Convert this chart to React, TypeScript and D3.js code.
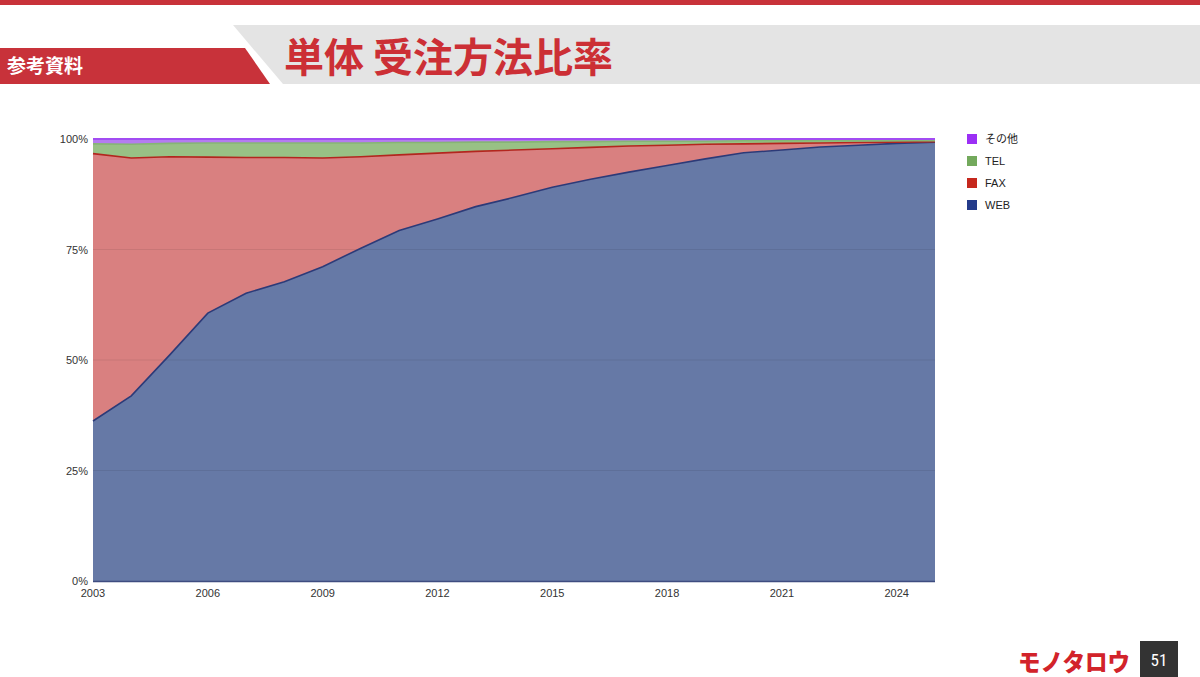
import React from "react";
import * as d3 from "d3";

const years = [2003,2004,2005,2006,2007,2008,2009,2010,2011,2012,2013,2014,2015,2016,2017,2018,2019,2020,2021,2022,2023,2024,2025];
const web = [36.2,41.9,51.1,60.6,65.1,67.7,71.1,75.3,79.3,81.9,84.7,86.8,89.1,90.9,92.5,94.0,95.5,96.9,97.5,98.2,98.6,99.0,99.3];
const fax = [60.5,53.8,44.9,35.3,30.7,28.1,24.6,20.7,17.1,14.9,12.5,10.7,8.7,7.2,5.9,4.6,3.3,2.0,1.5,0.9,0.6,0.3,0.1];
const tel = [2.2,3.1,3.0,3.2,3.3,3.3,3.4,3.1,2.8,2.4,2.1,1.8,1.6,1.3,1.1,0.9,0.7,0.7,0.6,0.5,0.4,0.3,0.2];
const other = [1.1,1.2,1.0,0.9,0.9,0.9,0.9,0.9,0.8,0.8,0.7,0.7,0.6,0.6,0.5,0.5,0.5,0.4,0.4,0.4,0.4,0.4,0.4];

const seriesKeys = ["WEB", "FAX", "TEL", "その他"];
const legendOrder = ["その他", "TEL", "FAX", "WEB"];
const xTicks = [2003,2006,2009,2012,2015,2018,2021,2024];
const yTicks = [0,25,50,75,100];

const fills: Record<string,string> = { "WEB": "#6679a6", "FAX": "#d98080", "TEL": "#98c185", "その他": "#b47cf0" };
const lines: Record<string,string> = { "WEB": "#2c3a78", "FAX": "#b3261e", "TEL": "#86b575", "その他": "#a24cf2" };
const legendColors: Record<string,string> = { "WEB": "#243b8a", "FAX": "#c5281d", "TEL": "#73a95c", "その他": "#9b2ff5" };

const ARIAL = "'Liberation Sans', Arial, sans-serif";
const JP = "'Noto Sans CJK JP', 'Noto Sans', sans-serif";

export default function App() {
  const W = 1200, H = 677;
  const left = 93, right = 935, top = 139, bottom = 581;
  const x = d3.scaleLinear().domain([2003, 2025]).range([left, right]);
  const y = d3.scaleLinear().domain([0, 100]).range([bottom, top]);

  const rows = years.map((yr, i) => {
    const total = web[i] + fax[i] + tel[i] + other[i];
    return {
      year: yr,
      "WEB": web[i] / total * 100,
      "FAX": fax[i] / total * 100,
      "TEL": tel[i] / total * 100,
      "その他": other[i] / total * 100,
    };
  });
  const stacked = d3.stack<any>().keys(seriesKeys)(rows);
  const area = d3.area<any>().x((d) => x(d.data.year)).y0((d) => y(d[0])).y1((d) => y(d[1]));
  const line = d3.line<any>().x((d) => x(d.data.year)).y((d) => y(d[1]));

  return (
    <svg width={W} height={H} style={{ display: "block", position: "absolute", left: 0, top: 0 }}>
      <rect x={0} y={0} width={W} height={H} fill="#ffffff" />
      {/* header */}
      <rect x={0} y={0} width={W} height={5} fill="#c8323a" />
      <polygon points="233,25 1200,25 1200,84 283,84" fill="#e4e4e4" />
      <polygon points="0,48 245,48 270,84 0,84" fill="#c8323a" />
      <text x={7} y={73} fill="#ffffff" fontFamily={JP} fontWeight={700} fontSize={19}>参考資料</text>
      <text x={284} y={72} fill="#cc2f35" fontFamily={JP} fontWeight={700} fontSize={40}>単体 受注方法比率</text>

      {/* areas */}
      {stacked.map((s) => (
        <path key={s.key} d={area(s) || ""} fill={fills[s.key]} />
      ))}
      {/* gridlines */}
      {yTicks.filter((t) => t > 0 && t < 100).map((t) => (
        <line key={t} x1={left} x2={right} y1={y(t)} y2={y(t)} stroke="rgba(0,0,0,0.08)" strokeWidth={1} />
      ))}
      {/* top lines */}
      {stacked.map((s) => (
        <path key={"l" + s.key} d={line(s) || ""} fill="none" stroke={lines[s.key]} strokeWidth={s.key === "その他" ? 2 : 1.6} />
      ))}
      <line x1={left} x2={right} y1={bottom + 0.5} y2={bottom + 0.5} stroke="#3e4c80" strokeWidth={1.5} />

      {/* y axis labels */}
      {yTicks.map((t) => (
        <text key={"y" + t} x={88} y={y(t) + 4} textAnchor="end" fontFamily={ARIAL} fontSize={11} fill="#333">{t}%</text>
      ))}
      {/* x axis labels */}
      {xTicks.map((t) => (
        <text key={"x" + t} x={x(t)} y={597} textAnchor="middle" fontFamily={ARIAL} fontSize={11} fill="#333">{t}</text>
      ))}

      {/* legend */}
      {legendOrder.map((k, i) => (
        <g key={"lg" + k} transform={`translate(967, ${134 + i * 22})`}>
          <rect x={0} y={0} width={10} height={10} fill={legendColors[k]} />
          <text x={18} y={9} fontFamily={k === "その他" ? JP : ARIAL} fontSize={11} fill="#222">{k}</text>
        </g>
      ))}

      {/* footer */}
      <text x={1018} y={671} fill="#d2232a" fontFamily={JP} fontWeight={900} fontSize={24} textLength={112} lengthAdjust="spacingAndGlyphs">モノタロウ</text>
      <rect x={1140} y={641} width={38} height={36} fill="#333333" />
      <text x={1159} y={666} textAnchor="middle" fill="#ffffff" fontFamily={"'Roboto Condensed', 'Liberation Sans Narrow', Roboto, sans-serif"} fontSize={17}>51</text>
    </svg>
  );
}
